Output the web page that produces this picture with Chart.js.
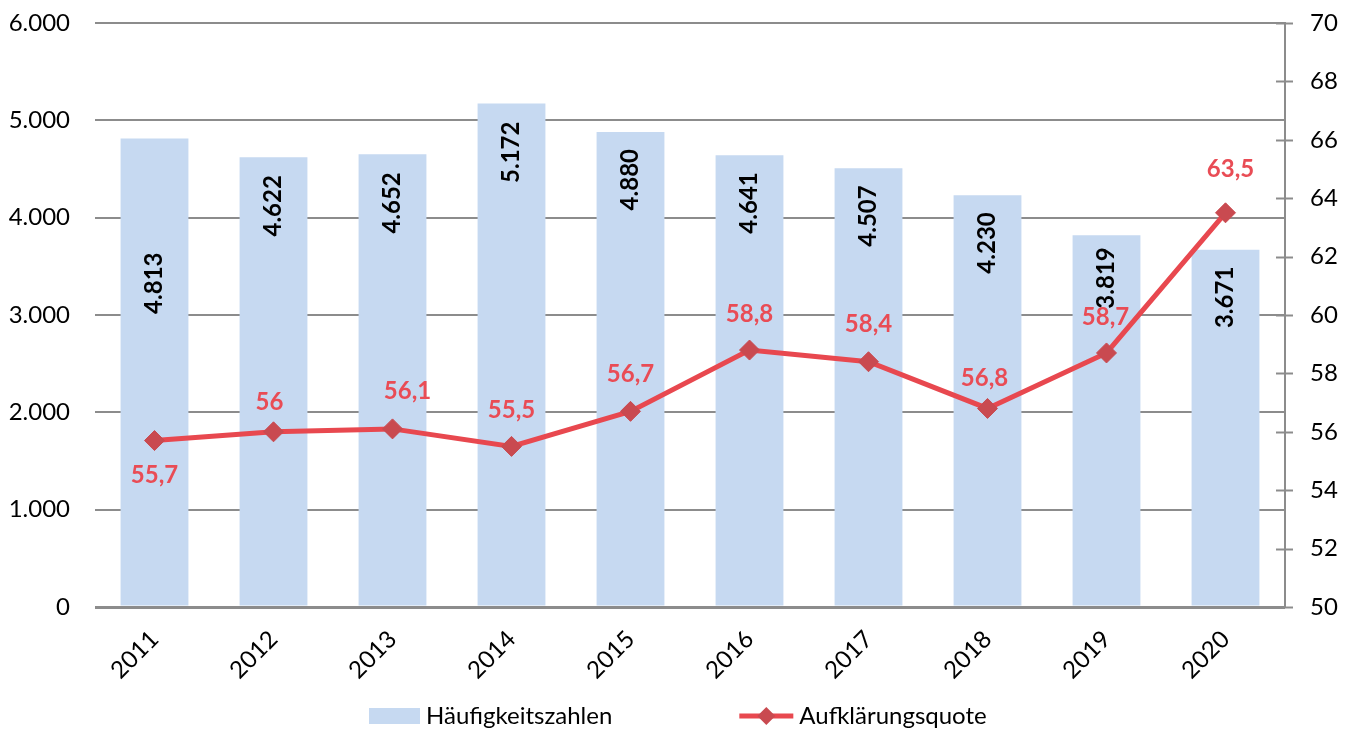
<!DOCTYPE html>
<html lang="de">
<head>
<meta charset="utf-8">
<title>Häufigkeitszahlen und Aufklärungsquote 2011–2020</title>
<script src="https://cdn.jsdelivr.net/npm/chart.js@4.4.1/dist/chart.umd.min.js"></script>
<style>
  html, body { margin: 0; padding: 0; background: #fff; }
  #wrap { position: relative; width: 1354px; height: 729px; }
</style>
</head>
<body>
<div id="wrap"><canvas id="chart"></canvas></div>
<script>
// Daten
const jahre = ['2011', '2012', '2013', '2014', '2015', '2016', '2017', '2018', '2019', '2020'];
const haeufigkeitszahlen = [4813, 4622, 4652, 5172, 4880, 4641, 4507, 4230, 3819, 3671];
const aufklaerungsquote = [55.7, 56, 56.1, 55.5, 56.7, 58.8, 58.4, 56.8, 58.7, 63.5];

// Achsenbeschriftungen
const hzTicks = [0, 1000, 2000, 3000, 4000, 5000, 6000];
const aqTicks = [50, 52, 54, 56, 58, 60, 62, 64, 66, 68, 70];

// Farben
const BALKEN_BLAU = '#C6D9F1';
const LINIE_ROT = '#E8484F';
const MARKER_ROT = '#C94A50';
const LABEL_ROT = '#E94C55';
const GITTER_GRAU = '#8C8C8C';
const SCHRIFT = 'Lato, "Open Sans", sans-serif';

// Abstand der Balkenbeschriftung zur Balkenoberkante (px)
const balkenLabelAbstand = [114, 18, 18, 18, 17, 17, 17, 17, 12, 17];
// Versatz der Quotenbeschriftung zum Punkt [dx, dy] (px)
const quoteLabelVersatz = [[0, 35], [-4, -30], [15, -38], [0, -36], [0, -37],
                           [0, -36], [0, -37], [-3, -30], [-1, -36], [5, -44]];

const fmtTausend = v => String(v).replace(/\B(?=(\d{3})+(?!\d))/g, '.');
const fmtKomma = v => String(v).replace('.', ',');

// vertikale Achsen: feste Breite, keine automatische Randpolsterung
const festeBreite = w => s => {
  s.width = w;
  s.paddingTop = 0;
  s.paddingBottom = 0;
};

// Werte an Balken und Linienpunkte schreiben
const wertLabels = {
  id: 'wertLabels',
  afterDatasetsDraw(chart) {
    const { ctx } = chart;
    ctx.save();
    ctx.font = 'bold 24px ' + SCHRIFT;
    ctx.textBaseline = 'middle';

    ctx.fillStyle = '#000';
    ctx.textAlign = 'right';
    chart.getDatasetMeta(0).data.forEach((bar, i) => {
      ctx.save();
      ctx.translate(bar.x, bar.y + balkenLabelAbstand[i]);
      ctx.rotate(-Math.PI / 2);
      ctx.fillText(fmtTausend(haeufigkeitszahlen[i]), 0, 0);
      ctx.restore();
    });

    ctx.fillStyle = LABEL_ROT;
    ctx.textAlign = 'center';
    chart.getDatasetMeta(1).data.forEach((pt, i) => {
      const [dx, dy] = quoteLabelVersatz[i];
      ctx.fillText(fmtKomma(aufklaerungsquote[i]), pt.x + dx, pt.y + dy);
    });
    ctx.restore();
  }
};

// Teilstriche der rechten Achse (kreuzend) und Legende unten
const achseUndLegende = {
  id: 'achseUndLegende',
  afterDraw(chart) {
    const { ctx } = chart;
    const y1 = chart.scales.y1;
    const ax = chart.chartArea.right;
    ctx.save();
    ctx.strokeStyle = GITTER_GRAU;
    ctx.lineWidth = 2;
    aqTicks.forEach(v => {
      const py = Math.round(y1.getPixelForValue(v)) + 0.5;
      ctx.beginPath();
      ctx.moveTo(ax - 9, py);
      ctx.lineTo(ax + 8, py);
      ctx.stroke();
    });

    // Legende
    ctx.font = '24px ' + SCHRIFT;
    ctx.textBaseline = 'middle';
    ctx.textAlign = 'left';
    const t1 = 'Häufigkeitszahlen';
    const t2 = 'Aufklärungsquote';
    const boxW = 51, symW = 54, gap = 6, abstand = 127;
    const w1 = ctx.measureText(t1).width;
    const w2 = ctx.measureText(t2).width;
    const gesamt = boxW + gap + w1 + abstand + symW + gap + w2;
    let x = Math.round(chart.width / 2 - gesamt / 2 + 1);
    const ly = chart.height - 13;

    ctx.fillStyle = BALKEN_BLAU;
    ctx.fillRect(x, ly - 8, boxW, 16);
    ctx.fillStyle = '#000';
    ctx.fillText(t1, x + boxW + gap, ly);
    x += boxW + gap + w1 + abstand;

    ctx.strokeStyle = LINIE_ROT;
    ctx.lineWidth = 5;
    ctx.beginPath();
    ctx.moveTo(x, ly);
    ctx.lineTo(x + symW, ly);
    ctx.stroke();
    const mx = x + symW / 2, r = 9;
    ctx.fillStyle = MARKER_ROT;
    ctx.beginPath();
    ctx.moveTo(mx, ly - r);
    ctx.lineTo(mx + r, ly);
    ctx.lineTo(mx, ly + r);
    ctx.lineTo(mx - r, ly);
    ctx.closePath();
    ctx.fill();
    ctx.fillStyle = '#000';
    ctx.fillText(t2, x + symW + gap, ly);
    ctx.restore();
  }
};

new Chart(document.getElementById('chart'), {
  data: {
    labels: jahre,
    datasets: [
      {
        type: 'bar',
        label: 'Häufigkeitszahlen',
        data: haeufigkeitszahlen,
        backgroundColor: BALKEN_BLAU,
        borderWidth: 0,
        barPercentage: 0.57,
        categoryPercentage: 1,
        yAxisID: 'y',
        order: 2
      },
      {
        type: 'line',
        label: 'Aufklärungsquote',
        data: aufklaerungsquote,
        borderColor: LINIE_ROT,
        borderWidth: 5,
        tension: 0,
        pointStyle: 'rectRot',
        pointRadius: 10,
        pointBackgroundColor: MARKER_ROT,
        pointBorderColor: MARKER_ROT,
        pointBorderWidth: 1,
        yAxisID: 'y1',
        order: 1
      }
    ]
  },
  options: {
    responsive: true,
    maintainAspectRatio: false,
    animation: false,
    layout: { padding: { top: 23, right: 0, bottom: 44, left: 0 } },
    plugins: {
      legend: { display: false },
      tooltip: { enabled: false }
    },
    scales: {
      x: {
        grid: { display: false, drawTicks: false },
        border: { display: false },
        ticks: {
          color: '#000',
          font: { family: SCHRIFT, size: 24 },
          minRotation: 45,
          maxRotation: 45,
          padding: 18
        },
        afterFit: s => { s.height = 78; }
      },
      y: {
        position: 'left',
        min: 0,
        max: 6000,
        afterBuildTicks: s => { s.ticks = hzTicks.map(v => ({ value: v })); },
        grid: {
          color: GITTER_GRAU,
          lineWidth: c => (c.tick && c.tick.value === 0 ? 3 : 2),
          drawTicks: false
        },
        border: { display: false },
        ticks: {
          color: '#000',
          font: { family: SCHRIFT, size: 24 },
          padding: 25,
          callback: v => fmtTausend(v)
        },
        afterFit: festeBreite(95)
      },
      y1: {
        position: 'right',
        min: 50,
        max: 70,
        afterBuildTicks: s => { s.ticks = aqTicks.map(v => ({ value: v })); },
        grid: { display: false, drawTicks: false },
        border: { display: true, color: GITTER_GRAU, width: 2 },
        ticks: {
          color: '#000',
          font: { family: SCHRIFT, size: 24 },
          padding: 25
        },
        afterFit: festeBreite(69)
      }
    }
  },
  plugins: [wertLabels, achseUndLegende]
});
</script>
</body>
</html>
